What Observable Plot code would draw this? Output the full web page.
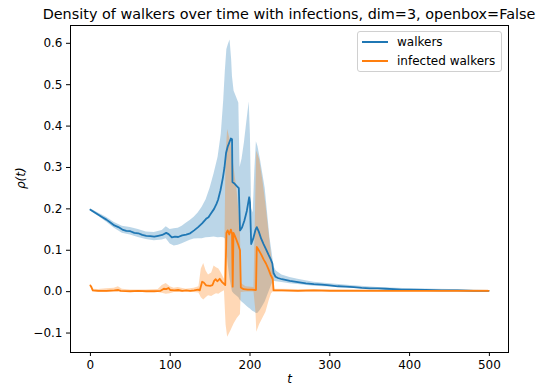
<!DOCTYPE html>
<html>
<head>
<meta charset="utf-8">
<script src="https://cdn.jsdelivr.net/npm/d3@7"></script>
<script src="https://cdn.jsdelivr.net/npm/@observablehq/plot@0.6"></script>
<style>
  html, body { margin: 0; padding: 0; background: #fff; }
  #wrap { position: relative; width: 540px; height: 392px; overflow: hidden; font-family: "DejaVu Sans", sans-serif; color: #000; }
  #title { position: absolute; left: 0; width: 578px; top: 6px; text-align: center; font-size: 14.4px; line-height: 16px; white-space: nowrap; }
  #legend { position: absolute; left: 357px; top: 31px; width: 143px; height: 39px; border: 1px solid #d0d0d0; border-radius: 3px; background: rgba(255,255,255,0.8); font-size: 12px; }
  .item { position: absolute; left: 0; height: 14px; line-height: 14px; white-space: nowrap; }
  .sw { position: absolute; left: 4px; top: 6px; width: 26px; height: 2px; }
  .lab { position: absolute; left: 39px; top: 0; }
</style>
</head>
<body>
<div id="wrap">
  <div id="chart"></div>
  <div id="title"></div>
  <div id="legend"></div>
</div>
<script>
// ---- data ----
const titleText = "Density of walkers over time with infections, dim=3, openbox=False";
const xLabel = "t";
const yLabel = "ρ(t)";
const xTicks = [0, 100, 200, 300, 400, 500];
const yTicks = [-0.1, 0, 0.1, 0.2, 0.3, 0.4, 0.5, 0.6];
const seriesNames = ["walkers", "infected walkers"];
const seriesColors = ["#1f77b4", "#ff7f0e"];

// walkers mean
const walkT = [0,5,10,15,20,25,30,35,40,45,50,55,60,65,70,75,80,85,90,95,98,102,106,110,115,120,125,130,135,140,145,148,150,155,158,160,163,166,168,170,172,174,176,177.5,178,180,182,184,186,187.5,190,193,196,199,200,201.5,204,207,208.5,211,214,217,220,223,226,228,229.5,232,235,240,250,260,270,280,290,300,310,320,330,340,350,360,370,380,390,400,420,440,460,480,499];
const walkV = [0.198,0.192,0.186,0.180,0.174,0.167,0.160,0.156,0.150,0.147,0.146,0.142,0.141,0.137,0.135,0.134,0.133,0.135,0.137,0.142,0.139,0.131,0.133,0.132,0.136,0.138,0.141,0.148,0.156,0.165,0.176,0.180,0.186,0.200,0.212,0.222,0.245,0.275,0.300,0.335,0.350,0.360,0.370,0.368,0.265,0.262,0.258,0.254,0.250,0.148,0.155,0.172,0.195,0.228,0.215,0.115,0.128,0.150,0.156,0.145,0.128,0.115,0.103,0.090,0.078,0.068,0.045,0.036,0.033,0.030,0.026,0.023,0.020,0.018,0.017,0.015,0.013,0.012,0.011,0.009,0.008,0.008,0.007,0.006,0.005,0.005,0.004,0.003,0.003,0.002,0.002];

// walkers band
const walkBandT = [0,10,20,30,40,50,60,70,80,90,95,100,105,110,115,120,125,130,135,140,145,150,155,160,164,167,169,171,173,175,177,178,180,183,186,187.5,190,193,196,199,200.5,202,204,206,208,210,213,216,219,222,225,228,230,233,240,250,260,280,300,330,360,400,450,499];
const walkLo = [0.195,0.182,0.168,0.153,0.141,0.137,0.131,0.126,0.123,0.125,0.128,0.115,0.110,0.112,0.116,0.120,0.124,0.127,0.128,0.128,0.130,0.131,0.132,0.130,0.131,0.130,0.128,0.100,0.060,0.030,0.010,0.000,-0.005,-0.010,-0.015,-0.020,-0.025,-0.030,-0.035,-0.040,-0.042,-0.045,-0.048,-0.050,-0.053,-0.052,-0.045,-0.035,-0.025,-0.010,0.005,0.020,0.025,0.024,0.022,0.019,0.017,0.013,0.011,0.008,0.006,0.003,0.002,0.001];
const walkHi = [0.200,0.190,0.180,0.167,0.158,0.155,0.150,0.144,0.143,0.148,0.157,0.150,0.152,0.153,0.158,0.165,0.172,0.180,0.190,0.204,0.222,0.250,0.285,0.325,0.380,0.460,0.530,0.585,0.598,0.608,0.560,0.520,0.485,0.470,0.455,0.300,0.320,0.360,0.410,0.458,0.380,0.200,0.190,0.290,0.362,0.350,0.320,0.285,0.250,0.190,0.130,0.090,0.060,0.050,0.040,0.034,0.030,0.023,0.019,0.014,0.010,0.007,0.005,0.003];

// infected walkers mean
const infT = [0,1,3,10,20,30,35,38,50,60,70,80,88,92,95,98,100,105,110,115,120,125,130,135,137,140,142,145,150,153,155,157,159,162,165,169,170.5,172,174,176,177.5,178.3,179.3,181,183,185,187.5,188.5,192,197,202,207.5,208.5,211,214,217,220,223,226,228.5,229.5,240,260,280,300,350,400,450,499];
const infV = [0.015,0.012,0.003,0.002,0.002,0.003,0.004,0.002,0.001,0.002,0.001,0.001,0.002,0.007,0.006,0.009,0.004,0.003,0.004,0.002,0.003,0.002,0.003,0.005,0.003,0.024,0.022,0.015,0.014,0.016,0.026,0.030,0.025,0.031,0.023,0.016,0.142,0.148,0.138,0.150,0.140,0.012,0.142,0.135,0.125,0.115,0.100,0.010,0.006,0.005,0.005,0.004,0.108,0.100,0.090,0.078,0.068,0.055,0.040,0.030,0.003,0.003,0.002,0.003,0.002,0.002,0.002,0.002,0.002];

// infected walkers band
const infBandT = [0,3,10,20,30,35,40,50,70,85,90,95,100,105,110,120,130,136,139,142,145,148,152,155,158,161,164,168,170,172,176,180,184,188,189,195,205,207.5,208.5,212,216,220,224,227,229.5,231,260,300,400,499];
const infLo = [0.012,0.000,-0.002,-0.002,-0.001,-0.002,-0.001,-0.002,-0.002,-0.002,-0.004,-0.006,-0.005,-0.002,-0.002,-0.001,-0.002,-0.003,-0.015,-0.020,-0.015,-0.010,-0.012,-0.008,-0.005,-0.006,-0.002,0.002,-0.080,-0.110,-0.095,-0.078,-0.065,-0.055,-0.002,-0.001,-0.001,-0.050,-0.098,-0.080,-0.065,-0.050,-0.022,-0.005,0.000,-0.001,-0.001,0.000,0.000,0.000];
const infHi = [0.018,0.006,0.005,0.007,0.008,0.012,0.006,0.004,0.004,0.005,0.015,0.020,0.012,0.008,0.010,0.006,0.008,0.012,0.055,0.068,0.050,0.040,0.045,0.062,0.058,0.055,0.045,0.030,0.330,0.392,0.360,0.300,0.240,0.150,0.020,0.012,0.010,0.250,0.340,0.320,0.270,0.210,0.140,0.085,0.060,0.006,0.005,0.005,0.004,0.004];

// ---- build tables ----
const walk = walkT.map((t, i) => ({t, v: walkV[i]}));
const inf = infT.map((t, i) => ({t, v: infV[i]}));
const walkBand = walkBandT.map((t, i) => ({t, lo: walkLo[i], hi: walkHi[i]}));
const infBand = infBandT.map((t, i) => ({t, lo: infLo[i], hi: infHi[i]}));

const fmt = d3.format(".1f");

const chart = Plot.plot({
  width: 540,
  height: 392,
  marginLeft: 70,
  marginRight: 32,
  marginTop: 25,
  marginBottom: 40,
  style: {fontFamily: "DejaVu Sans, sans-serif", fontSize: "12px", color: "#000", background: "#fff", overflow: "visible"},
  x: {domain: [-24.95, 523.95]},
  y: {domain: [-0.147, 0.643]},
  marks: [
    Plot.areaY(walkBand, {x: "t", y1: "lo", y2: "hi", fill: seriesColors[0], fillOpacity: 0.3}),
    Plot.areaY(infBand, {x: "t", y1: "lo", y2: "hi", fill: seriesColors[1], fillOpacity: 0.3}),
    Plot.lineY(walk, {x: "t", y: "v", stroke: seriesColors[0], strokeWidth: 1.8}),
    Plot.lineY(inf, {x: "t", y: "v", stroke: seriesColors[1], strokeWidth: 1.8}),
    Plot.frame({stroke: "#000", strokeWidth: 1}),
    Plot.axisX({ticks: xTicks, tickSize: 4, tickPadding: 4, label: null, fontSize: 12, stroke: "#000"}),
    Plot.axisY({ticks: yTicks, tickSize: 4, tickPadding: 4, label: null, fontSize: 12, tickFormat: fmt, stroke: "#000"}),
    Plot.text([xLabel], {frameAnchor: "bottom", dy: 30, text: d => d, fontStyle: "italic", fontSize: 12, fill: "#000"}),
    Plot.text([yLabel], {frameAnchor: "left", dx: -49, rotate: -90, text: d => d, fontStyle: "italic", fontSize: 12, fill: "#000"})
  ]
});
document.getElementById("chart").appendChild(chart);
document.getElementById("title").textContent = titleText;

const legend = document.getElementById("legend");
seriesNames.forEach((name, i) => {
  const item = document.createElement("div");
  item.className = "item";
  item.style.top = (3 + i * 18.7) + "px";
  item.style.width = "100%";
  const sw = document.createElement("div");
  sw.className = "sw";
  sw.style.backgroundColor = seriesColors[i];
  const lab = document.createElement("div");
  lab.className = "lab";
  lab.textContent = name;
  item.appendChild(sw);
  item.appendChild(lab);
  legend.appendChild(item);
});
</script>
</body>
</html>
